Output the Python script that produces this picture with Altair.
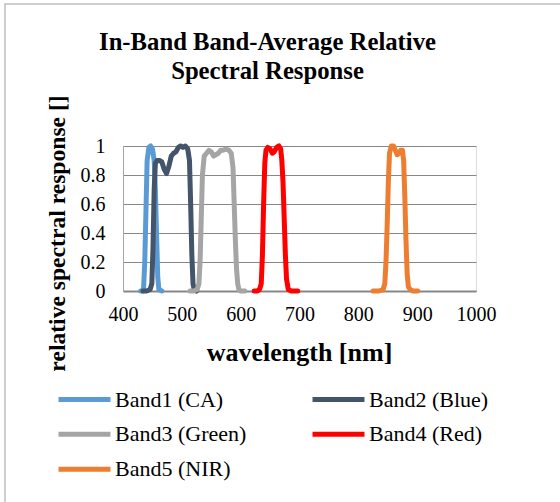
import altair as alt
import pandas as pd

# ---- data ----
band_names = ["Band1 (CA)", "Band2 (Blue)", "Band3 (Green)", "Band4 (Red)", "Band5 (NIR)"]
band_colors = ["#5B9BD5", "#44546A", "#A5A5A5", "#FF0000", "#ED7D31"]

wl_band1 = [430, 433, 435, 437, 439, 441, 444, 447, 450, 453, 455, 457, 459, 461, 466]
rsr_band1 = [0, 0, 0.02, 0.2, 0.55, 0.9, 0.99, 1.0, 0.98, 0.9, 0.7, 0.4, 0.1, 0.01, 0]

wl_band2 = [434, 440, 446, 449, 451, 453, 455, 458, 462, 466, 470, 474, 478, 482, 486,
            490, 494, 498, 502, 506, 510, 513, 515, 517, 519, 521, 525]
rsr_band2 = [0, 0, 0.01, 0.05, 0.3, 0.7, 0.88, 0.9, 0.9, 0.89, 0.84, 0.81, 0.86, 0.93, 0.95,
             0.96, 0.99, 1.0, 0.99, 1.0, 0.98, 0.9, 0.6, 0.25, 0.05, 0.01, 0]

wl_band3 = [514, 520, 526, 529, 531, 533, 535, 538, 542, 546, 550, 554, 558, 562, 566,
            570, 575, 580, 584, 587, 589, 591, 593, 595, 597, 600, 607]
rsr_band3 = [0, 0, 0.01, 0.05, 0.2, 0.5, 0.8, 0.93, 0.95, 0.97, 0.96, 0.93, 0.94, 0.95, 0.97,
             0.97, 0.98, 0.97, 0.95, 0.85, 0.6, 0.35, 0.15, 0.05, 0.01, 0, 0]

wl_band4 = [623, 628, 632, 635, 637, 639, 641, 643, 646, 650, 654, 657, 661, 665, 668,
            670, 672, 674, 676, 678, 681, 686, 697]
rsr_band4 = [0, 0, 0.01, 0.05, 0.25, 0.6, 0.88, 0.97, 0.99, 0.98, 0.95, 0.96, 0.99, 1.0, 0.98,
             0.9, 0.75, 0.5, 0.25, 0.08, 0.01, 0, 0]

wl_band5 = [825, 835, 842, 845, 847, 849, 851, 853, 856, 860, 863, 866, 869, 872, 875,
            877, 879, 881, 883, 885, 888, 893, 901]
rsr_band5 = [0, 0, 0.01, 0.05, 0.2, 0.45, 0.75, 0.95, 1.0, 1.0, 0.97, 0.94, 0.95, 0.97, 0.97,
             0.9, 0.65, 0.35, 0.12, 0.03, 0.01, 0, 0]

x_ticks = [400, 500, 600, 700, 800, 900, 1000]
y_ticks = [0, 0.2, 0.4, 0.6, 0.8, 1]

title_lines = ["In-Band Band-Average Relative", "Spectral Response"]
x_title = "wavelength [nm]"
y_title = "relative spectral response []"

# ---- build table ----
rows = []
for name, wls, rs in zip(band_names,
                         [wl_band1, wl_band2, wl_band3, wl_band4, wl_band5],
                         [rsr_band1, rsr_band2, rsr_band3, rsr_band4, rsr_band5]):
    for i, (w, r) in enumerate(zip(wls, rs)):
        rows.append({"band": name, "wavelength": w, "response": r, "order": i})
df = pd.DataFrame(rows)

FONT = "Liberation Serif"
W, H = 353, 145

lines = alt.Chart(df).mark_line(strokeWidth=5, strokeCap="round", strokeJoin="round").encode(
    x=alt.X("wavelength:Q",
            scale=alt.Scale(domain=[400, 1000], nice=False, zero=False),
            axis=alt.Axis(values=x_ticks, format="d", title=x_title, grid=False, ticks=False,
                          domainColor="#878787", domainWidth=2,
                          labelFont=FONT, labelFontSize=20, labelColor="#000000",
                          labelPadding=13, labelFlush=False,
                          titleFont=FONT, titleFontSize=26, titleFontWeight="bold",
                          titleColor="#000000", titleX=176, titleY=69,
                          titleBaseline="alphabetic", titleAlign="center")),
    y=alt.Y("response:Q",
            scale=alt.Scale(domain=[0, 1], nice=False),
            axis=alt.Axis(values=y_ticks, format="~g", title=y_title, grid=True,
                          gridColor="#878787", gridWidth=1, ticks=False,
                          domainColor="#a6a6a6", domainWidth=1,
                          labelFont=FONT, labelFontSize=20, labelColor="#000000",
                          labelPadding=18, labelFlush=False,
                          titleFont=FONT, titleFontSize=23.6, titleFontWeight="bold",
                          titleColor="#000000", titleX=-59, titleY=87,
                          titleBaseline="alphabetic", titleAlign="center", titleAngle=270)),
    color=alt.Color("band:N",
                    scale=alt.Scale(domain=band_names, range=band_colors),
                    legend=alt.Legend(orient="none", legendX=-67, legendY=236,
                                      direction="horizontal",
                                      columns=2, columnPadding=63, rowPadding=0,
                                      clipHeight=34.5,
                                      symbolType="stroke", symbolSize=2700,
                                      symbolStrokeWidth=5, labelOffset=2,
                                      labelFont=FONT, labelFontSize=22,
                                      labelColor="#000000", labelLimit=400,
                                      title=None, padding=0)),
    order="order:Q",
)

frame = alt.Chart(pd.DataFrame({"k": [0]})).mark_rect(
    fill="#ffffff", fillOpacity=0, stroke="#bfbfbf", strokeWidth=1.5
).encode(
    x=alt.value(-118), x2=alt.value(W + 120),
    y=alt.value(-142), y2=alt.value(H + 240),
)

chart = alt.layer(frame, lines).properties(
    width=W, height=H,
    title=alt.TitleParams(text=title_lines, font=FONT, fontSize=24.7, fontWeight="bold",
                          color="#000000", anchor="middle", dx=-32, offset=-80,
                          lineHeight=29),
    padding={"left": 123, "top": 146, "right": 84, "bottom": 211},
    autosize=alt.AutoSizeParams(type="none"),
).configure_view(stroke=None).configure(background="#ffffff", font=FONT)

chart.save("out.html", embed_options={"renderer": "svg", "actions": False})
